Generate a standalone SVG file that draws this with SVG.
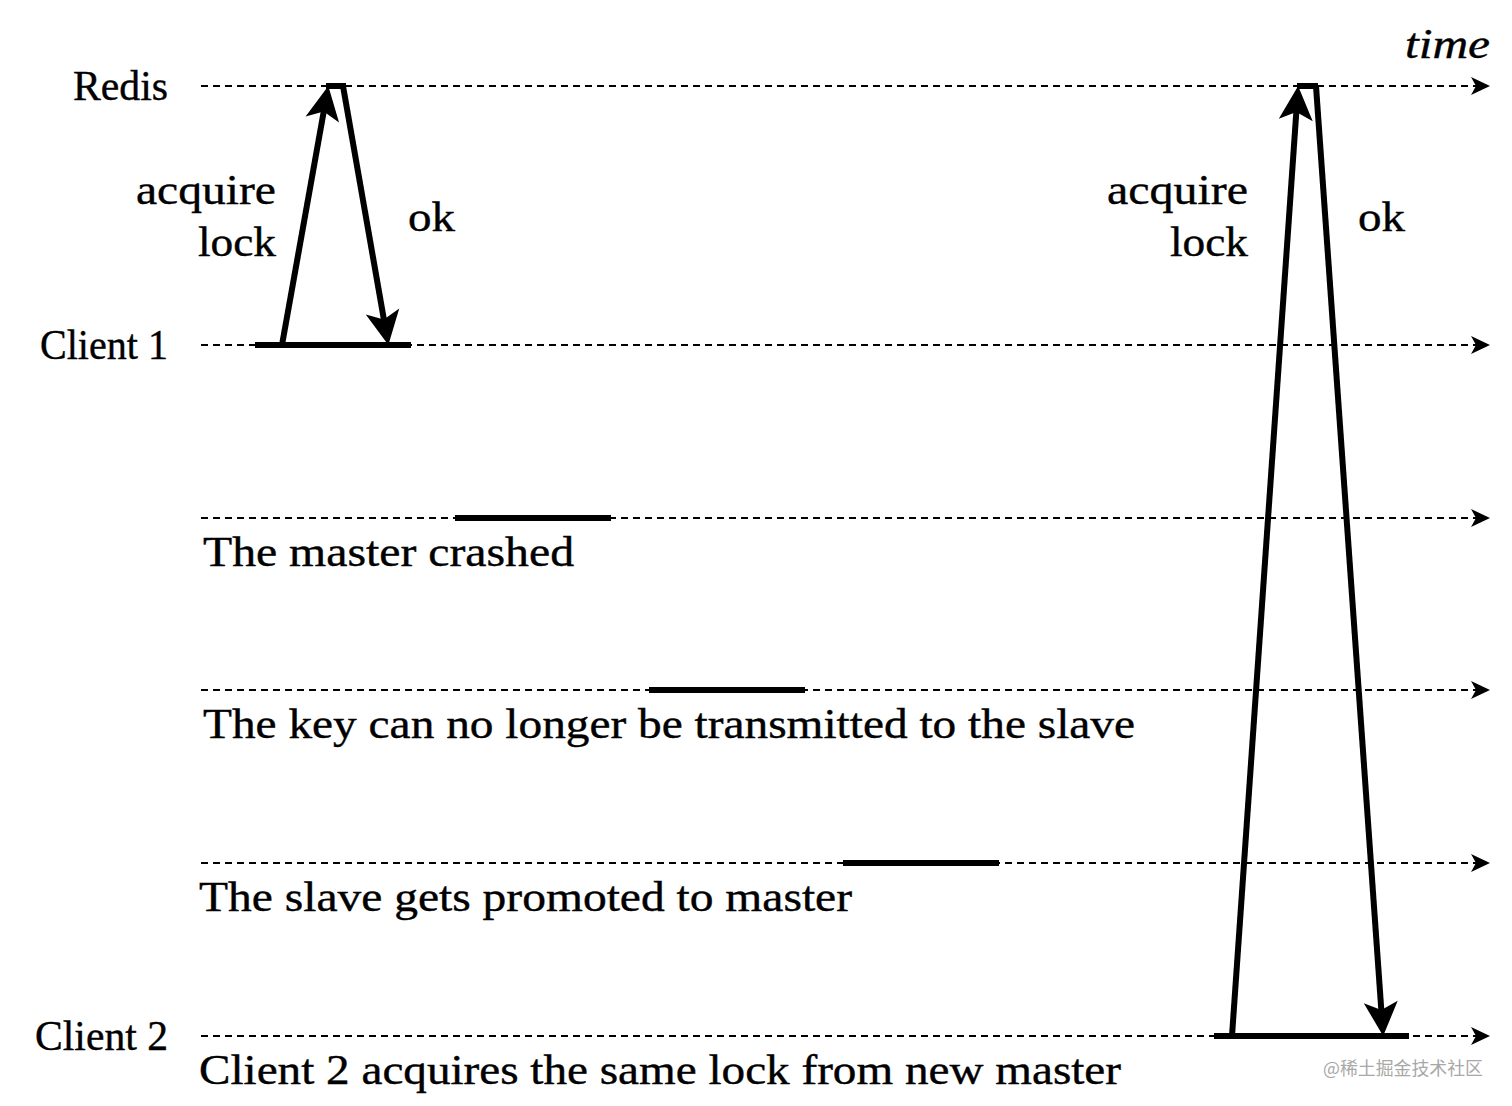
<svg xmlns="http://www.w3.org/2000/svg" width="1512" height="1106" viewBox="0 0 1512 1106">
  <defs>
    <marker id="bigHead" markerUnits="userSpaceOnUse" viewBox="-30 -20 46 40" refX="0" refY="0" markerWidth="46" markerHeight="40" orient="auto" overflow="visible">
      <path d="M12,0 L-22,-17 L-14,0 L-22,17 Z" fill="#000"/>
    </marker>
    <marker id="smallHead" markerUnits="userSpaceOnUse" viewBox="-20 -12 32 24" refX="0" refY="0" markerWidth="32" markerHeight="24" orient="auto" overflow="visible">
      <path d="M10,0 L-9,-9 L-4,0 L-9,9 Z" fill="#000"/>
    </marker>
  </defs>
  <style>
    .lbl { font-family: "Liberation Serif", "DejaVu Serif", serif; font-size: 42px; fill: #000; stroke: #000; stroke-width: 0.4px; }
    .it { font-style: italic; }
    .end { text-anchor: end; }
    .dash { stroke: #000; stroke-width: 2; stroke-dasharray: 7 5; fill: none; }
    .bar { stroke: #000; stroke-width: 6; stroke-linecap: butt; fill: none; }
    .arr { stroke: #000; stroke-width: 6; fill: none; }
    .wm { font-family: "Noto Sans CJK SC", "Liberation Sans", sans-serif; font-size: 18px; fill: #a8a8a8; }
  </style>
  <rect width="1512" height="1106" fill="#fff"/>

  <g id="timelines">
    <line class="dash" x1="201" y1="86" x2="1480" y2="86" marker-end="url(#smallHead)"/>
    <line class="dash" x1="201" y1="345" x2="1480" y2="345" marker-end="url(#smallHead)"/>
    <line class="dash" x1="201" y1="518" x2="1480" y2="518" marker-end="url(#smallHead)"/>
    <line class="dash" x1="201" y1="690" x2="1480" y2="690" marker-end="url(#smallHead)"/>
    <line class="dash" x1="201" y1="863" x2="1480" y2="863" marker-end="url(#smallHead)"/>
    <line class="dash" x1="201" y1="1036" x2="1480" y2="1036" marker-end="url(#smallHead)"/>
  </g>

  <g id="bars">
    <line class="bar" x1="326" y1="86" x2="346" y2="86"/>
    <line class="bar" x1="1297" y1="86" x2="1318" y2="86"/>
    <line class="bar" x1="255" y1="345" x2="411" y2="345"/>
    <line class="bar" x1="455" y1="518" x2="611" y2="518"/>
    <line class="bar" x1="649" y1="690" x2="805" y2="690"/>
    <line class="bar" x1="843" y1="863" x2="999" y2="863"/>
    <line class="bar" x1="1214" y1="1036" x2="1409" y2="1036"/>
  </g>

  <g id="connectors">
    <line class="arr" x1="282" y1="345" x2="326.2" y2="97.8" marker-end="url(#bigHead)"/>
    <line class="arr" x1="343" y1="86" x2="386.3" y2="333.2" marker-end="url(#bigHead)"/>
    <line class="arr" x1="1232" y1="1036" x2="1297.3" y2="98" marker-end="url(#bigHead)"/>
    <line class="arr" x1="1316" y1="86" x2="1382.3" y2="1024" marker-end="url(#bigHead)"/>
  </g>

  <g id="label-redis"><text class="lbl end" x="168" y="100" textLength="95" lengthAdjust="spacingAndGlyphs">Redis</text></g>
  <g id="label-client1"><text class="lbl end" x="168" y="359" textLength="128" lengthAdjust="spacingAndGlyphs">Client 1</text></g>
  <g id="label-client2"><text class="lbl end" x="168" y="1050" textLength="133" lengthAdjust="spacingAndGlyphs">Client 2</text></g>
  <g id="label-time"><text class="lbl it" x="1405" y="58" textLength="85" lengthAdjust="spacingAndGlyphs">time</text></g>

  <g id="label-acquire1">
    <text class="lbl end" x="276" y="204" textLength="140" lengthAdjust="spacingAndGlyphs">acquire</text>
    <text class="lbl end" x="276" y="256" textLength="78" lengthAdjust="spacingAndGlyphs">lock</text>
  </g>
  <g id="label-ok1"><text class="lbl" x="408" y="231" textLength="47" lengthAdjust="spacingAndGlyphs">ok</text></g>
  <g id="label-acquire2">
    <text class="lbl end" x="1248" y="204" textLength="141" lengthAdjust="spacingAndGlyphs">acquire</text>
    <text class="lbl end" x="1248" y="256" textLength="78" lengthAdjust="spacingAndGlyphs">lock</text>
  </g>
  <g id="label-ok2"><text class="lbl" x="1358" y="231" textLength="47" lengthAdjust="spacingAndGlyphs">ok</text></g>

  <g id="event-crash"><text class="lbl" x="203" y="566" textLength="371" lengthAdjust="spacingAndGlyphs">The master crashed</text></g>
  <g id="event-key"><text class="lbl" x="203" y="738" textLength="932" lengthAdjust="spacingAndGlyphs">The key can no longer be transmitted to the slave</text></g>
  <g id="event-promote"><text class="lbl" x="199" y="911" textLength="653" lengthAdjust="spacingAndGlyphs">The slave gets promoted to master</text></g>
  <g id="event-acquire"><text class="lbl" x="199" y="1084" textLength="922" lengthAdjust="spacingAndGlyphs">Client 2 acquires the same lock from new master</text></g>

  <g id="watermark"><text class="wm" x="1323" y="1075" textLength="160" lengthAdjust="spacingAndGlyphs">@稀土掘金技术社区</text></g>
</svg>
